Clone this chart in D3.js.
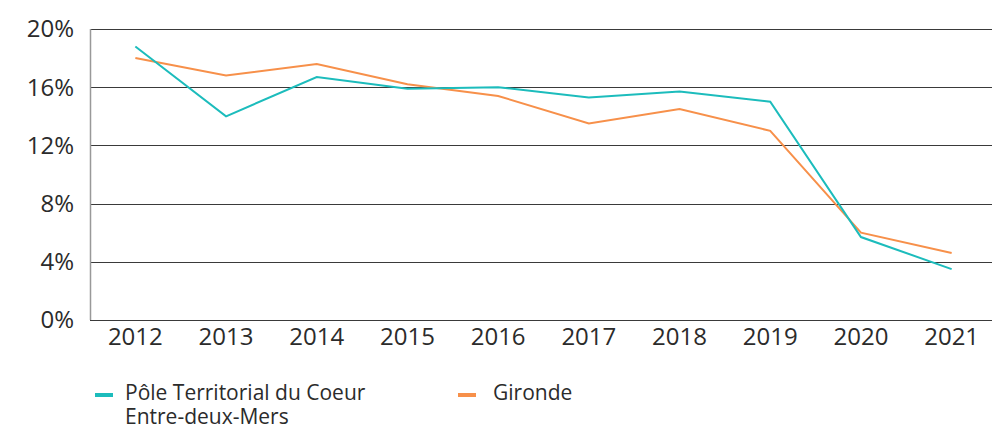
<!DOCTYPE html>
<html>
<head>
<meta charset="utf-8">
<script src="https://cdn.jsdelivr.net/npm/d3@7"></script>
<style>
  body { margin: 0; background: #fff; }
  svg { display: block; font-family: "Open Sans", sans-serif; }
</style>
</head>
<body>
<div id="chart"></div>
<script>
const years = ['2012', '2013', '2014', '2015', '2016', '2017', '2018', '2019', '2020', '2021'];
const poleValues = [18.8, 14.0, 16.7, 15.9, 16.0, 15.3, 15.7, 15.0, 5.7, 3.5];
const girondeValues = [18.0, 16.8, 17.6, 16.2, 15.4, 13.5, 14.5, 13.0, 6.0, 4.6];
const yTicks = [0, 4, 8, 12, 16, 20];
const seriesNames = ['Pôle Territorial du Coeur|Entre-deux-Mers', 'Gironde'];

const colors = { pole: '#1cbcbc', gironde: '#f7904a', text: '#2b2b2b', grid: '#3a3a3a' };
const width = 992, height = 430;
const margin = { top: 29, right: -5, bottom: 110, left: 90 };

const svg = d3.select('#chart').append('svg')
    .attr('width', width)
    .attr('height', height);

const x = d3.scaleBand()
    .domain(years)
    .range([margin.left, width - margin.right]);

const y = d3.scaleLinear()
    .domain([0, 20])
    .range([height - margin.bottom, margin.top]);

// horizontal gridlines
svg.append('g')
    .selectAll('line')
    .data(yTicks)
    .join('line')
    .attr('x1', margin.left)
    .attr('x2', width)
    .attr('y1', d => Math.round(y(d)) + 0.5)
    .attr('y2', d => Math.round(y(d)) + 0.5)
    .attr('stroke', colors.grid)
    .attr('stroke-width', 1);

// left axis line
svg.append('line')
    .attr('x1', margin.left + 0.5)
    .attr('x2', margin.left + 0.5)
    .attr('y1', y(20))
    .attr('y2', y(0))
    .attr('stroke', '#999')
    .attr('stroke-width', 1.5);

// y tick labels
svg.append('g')
    .selectAll('text')
    .data(yTicks)
    .join('text')
    .attr('x', 74)
    .attr('y', d => y(d))
    .attr('dy', '0.35em')
    .attr('text-anchor', 'end')
    .attr('font-size', 24)
    .attr('fill', colors.text)
    .text(d => d + '%');

// x tick labels
svg.append('g')
    .selectAll('text')
    .data(years)
    .join('text')
    .attr('x', d => x(d) + x.bandwidth() / 2)
    .attr('y', y(0) + 25)
    .attr('text-anchor', 'middle')
    .attr('font-size', 24)
    .attr('fill', colors.text)
    .text(d => d);

const line = d3.line()
    .x((d, i) => x(years[i]) + x.bandwidth() / 2)
    .y(d => y(d));

svg.append('path')
    .datum(girondeValues)
    .attr('fill', 'none')
    .attr('stroke', colors.gironde)
    .attr('stroke-width', 2)
    .attr('d', line);

svg.append('path')
    .datum(poleValues)
    .attr('fill', 'none')
    .attr('stroke', colors.pole)
    .attr('stroke-width', 2)
    .attr('d', line);

// legend
const legendItems = [
    { name: seriesNames[0], color: colors.pole, x: 95, tx: 30 },
    { name: seriesNames[1], color: colors.gironde, x: 458, tx: 35 }
];

const legend = svg.append('g')
    .selectAll('g')
    .data(legendItems)
    .join('g')
    .attr('transform', d => `translate(${d.x},395)`);

legend.append('rect')
    .attr('x', 0)
    .attr('y', -2)
    .attr('width', 18)
    .attr('height', 4)
    .attr('fill', d => d.color);

// one text element per legend line
legend.each(function(d) {
    d3.select(this).selectAll('text')
        .data(d.name.split('|'))
        .join('text')
        .attr('x', d.tx)
        .attr('y', (t, i) => 5 + i * 24)
        .attr('font-size', 21)
        .attr('fill', colors.text)
        .text(t => t);
});
</script>
</body>
</html>
